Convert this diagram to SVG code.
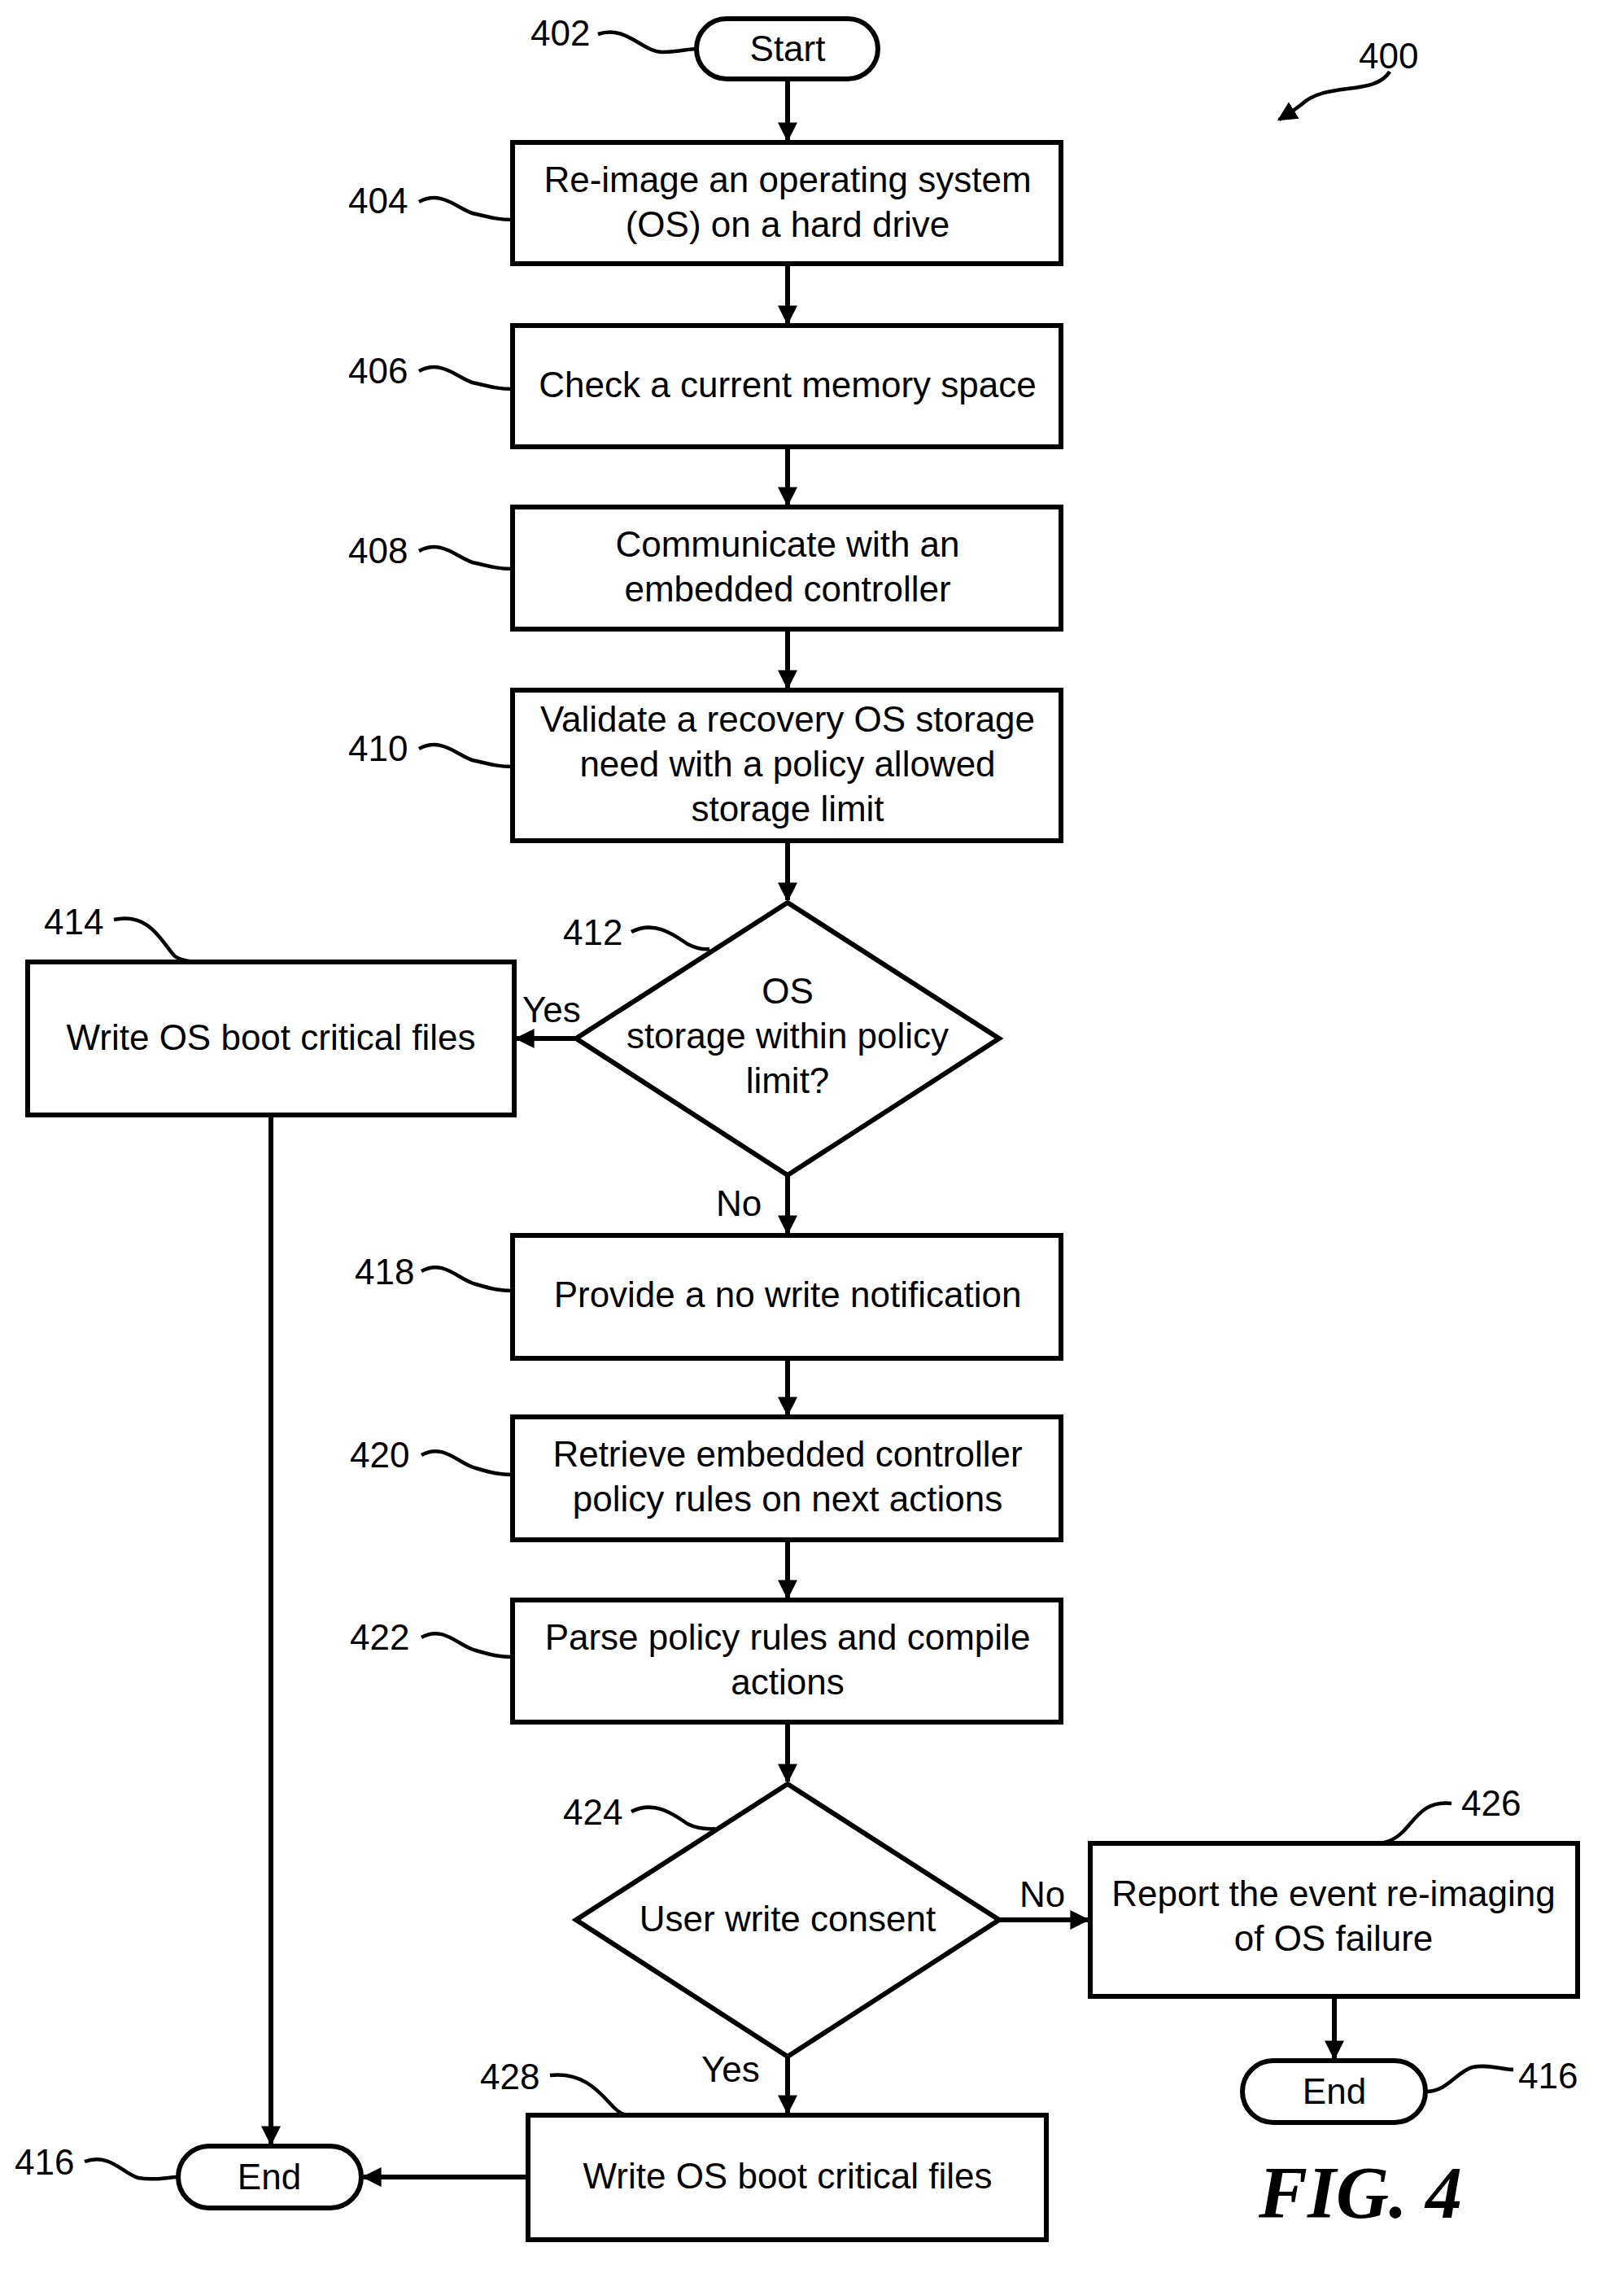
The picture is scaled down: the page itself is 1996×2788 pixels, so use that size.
<svg xmlns="http://www.w3.org/2000/svg" width="1996" height="2788" viewBox="0 0 1996 2788">
<style>
.s{fill:#fff;stroke:#000;stroke-width:6}
.t{font-family:"Liberation Sans",Arial,sans-serif;font-size:44px;text-anchor:middle;fill:#000}
.l{font-family:"Liberation Sans",Arial,sans-serif;font-size:44px;fill:#000}
.c{fill:none;stroke:#000;stroke-width:6}
.q{fill:none;stroke:#000;stroke-width:4.5}
</style>
<defs><marker id="a" viewBox="0 0 10 10" refX="9" refY="5" markerWidth="24" markerHeight="24" orient="auto" markerUnits="userSpaceOnUse"><path d="M0,0L10,5L0,10z" fill="#000"/></marker></defs>
<rect width="1996" height="2788" fill="#fff"/>
<g id="connectors">
<path class="c" d="M968,97V172" marker-end="url(#a)"/>
<path class="c" d="M968,324V397" marker-end="url(#a)"/>
<path class="c" d="M968,549V620" marker-end="url(#a)"/>
<path class="c" d="M968,773V845" marker-end="url(#a)"/>
<path class="c" d="M968,1033V1106" marker-end="url(#a)"/>
<path class="c" d="M708,1276H635" marker-end="url(#a)"/>
<path class="c" d="M968,1444V1515" marker-end="url(#a)"/>
<path class="c" d="M968,1669V1738" marker-end="url(#a)"/>
<path class="c" d="M968,1892V1963" marker-end="url(#a)"/>
<path class="c" d="M968,2116V2189" marker-end="url(#a)"/>
<path class="c" d="M1228,2359H1337" marker-end="url(#a)"/>
<path class="c" d="M968,2527V2596" marker-end="url(#a)"/>
<path class="c" d="M1640,2453V2529" marker-end="url(#a)"/>
<path class="c" d="M333,1370V2634" marker-end="url(#a)"/>
<path class="c" d="M649,2675H447" marker-end="url(#a)"/>
<text class="l" x="642" y="1256">Yes</text>
<text class="l" x="880" y="1494">No</text>
<text class="l" x="1253" y="2343">No</text>
<text class="l" x="862" y="2558">Yes</text>
</g>
<g id="n402"><rect class="s" x="856" y="23" width="223" height="74" rx="37"/><text class="t" x="968" y="75">Start</text>
<text class="l" x="652" y="56">402</text><path class="q" d="M735,42C770,30 790,65 815,64C835,64 845,60 856,60"/></g>
<g id="n400"><text class="l" x="1670" y="84">400</text><path class="q" d="M1708,88C1690,118 1630,100 1600,128C1590,136 1580,142 1572,147" marker-end="url(#a)"/></g>
<g id="n404"><rect class="s" x="630" y="175" width="674" height="149"/><text class="t" x="968" y="236">Re-image an operating system</text><text class="t" x="968" y="291">(OS) on a hard drive</text>
<text class="l" x="428" y="262">404</text><path class="q" d="M515,248C545,232 565,260 585,263C605,268 615,270 630,270"/></g>
<g id="n406"><rect class="s" x="630" y="400" width="674" height="149"/><text class="t" x="968" y="488">Check a current memory space</text>
<text class="l" x="428" y="471">406</text><path class="q" d="M515,456C545,440 565,468 585,471C605,476 615,478 630,478"/></g>
<g id="n408"><rect class="s" x="630" y="623" width="674" height="150"/><text class="t" x="968" y="684">Communicate with an</text><text class="t" x="968" y="739">embedded controller</text>
<text class="l" x="428" y="692">408</text><path class="q" d="M515,677C545,661 565,689 585,692C605,697 615,699 630,699"/></g>
<g id="n410"><rect class="s" x="630" y="848" width="674" height="185"/><text class="t" x="968" y="899">Validate a recovery OS storage</text><text class="t" x="968" y="954">need with a policy allowed</text><text class="t" x="968" y="1009">storage limit</text>
<text class="l" x="428" y="935">410</text><path class="q" d="M515,920C545,904 565,932 585,935C605,940 615,942 630,942"/></g>
<g id="n412"><path class="s" d="M968,1109L1228,1276L968,1444L708,1276Z"/><text class="t" x="968" y="1233">OS</text><text class="t" x="968" y="1288">storage within policy</text><text class="t" x="968" y="1343">limit?</text>
<text class="l" x="692" y="1161">412</text><path class="q" d="M776,1145C805,1130 830,1150 845,1160C855,1165 865,1167 872,1166"/></g>
<g id="n414"><rect class="s" x="34" y="1182" width="598" height="188"/><text class="t" x="333" y="1290">Write OS boot critical files</text>
<text class="l" x="54" y="1148">414</text><path class="q" d="M140,1130C185,1120 200,1160 215,1175C225,1182 240,1182 257,1182"/></g>
<g id="n418"><rect class="s" x="630" y="1518" width="674" height="151"/><text class="t" x="968" y="1606">Provide a no write notification</text>
<text class="l" x="436" y="1578">418</text><path class="q" d="M518,1562C545,1546 565,1574 585,1578C605,1584 615,1586 630,1586"/></g>
<g id="n420"><rect class="s" x="630" y="1741" width="674" height="151"/><text class="t" x="968" y="1802">Retrieve embedded controller</text><text class="t" x="968" y="1857">policy rules on next actions</text>
<text class="l" x="430" y="1803">420</text><path class="q" d="M518,1788C545,1772 565,1800 585,1804C605,1810 615,1812 630,1812"/></g>
<g id="n422"><rect class="s" x="630" y="1966" width="674" height="150"/><text class="t" x="968" y="2027">Parse policy rules and compile</text><text class="t" x="968" y="2082">actions</text>
<text class="l" x="430" y="2027">422</text><path class="q" d="M518,2012C545,1996 565,2024 585,2028C605,2034 615,2036 630,2036"/></g>
<g id="n424"><path class="s" d="M968,2192L1228,2359L968,2527L708,2359Z"/><text class="t" x="968" y="2373">User write consent</text>
<text class="l" x="692" y="2242">424</text><path class="q" d="M776,2226C805,2211 830,2231 845,2241C855,2246 865,2248 879,2247"/></g>
<g id="n426"><rect class="s" x="1340" y="2265" width="599" height="188"/><text class="t" x="1639" y="2342">Report the event re-imaging</text><text class="t" x="1639" y="2397">of OS failure</text>
<text class="l" x="1796" y="2231">426</text><path class="q" d="M1784,2216C1750,2212 1740,2235 1725,2250C1715,2260 1705,2265 1690,2265"/></g>
<g id="n416r"><rect class="s" x="1527" y="2532" width="225" height="76" rx="38"/><text class="t" x="1640" y="2585">End</text>
<text class="l" x="1866" y="2566">416</text><path class="q" d="M1752,2570C1780,2570 1790,2545 1810,2540C1830,2536 1845,2543 1860,2543"/></g>
<g id="n428"><rect class="s" x="649" y="2599" width="637" height="153"/><text class="t" x="968" y="2689">Write OS boot critical files</text>
<text class="l" x="590" y="2567">428</text><path class="q" d="M676,2550C720,2545 740,2575 755,2590C762,2597 768,2599 773,2599"/></g>
<g id="n416l"><rect class="s" x="219" y="2637" width="225" height="76" rx="38"/><text class="t" x="331" y="2690">End</text>
<text class="l" x="18" y="2672">416</text><path class="q" d="M104,2656C135,2645 150,2670 170,2676C190,2680 205,2675 219,2675"/></g>
<text x="1672" y="2725" font-family="Liberation Serif,serif" font-size="90" font-style="italic" font-weight="bold" text-anchor="middle">FIG. 4</text>
</svg>
